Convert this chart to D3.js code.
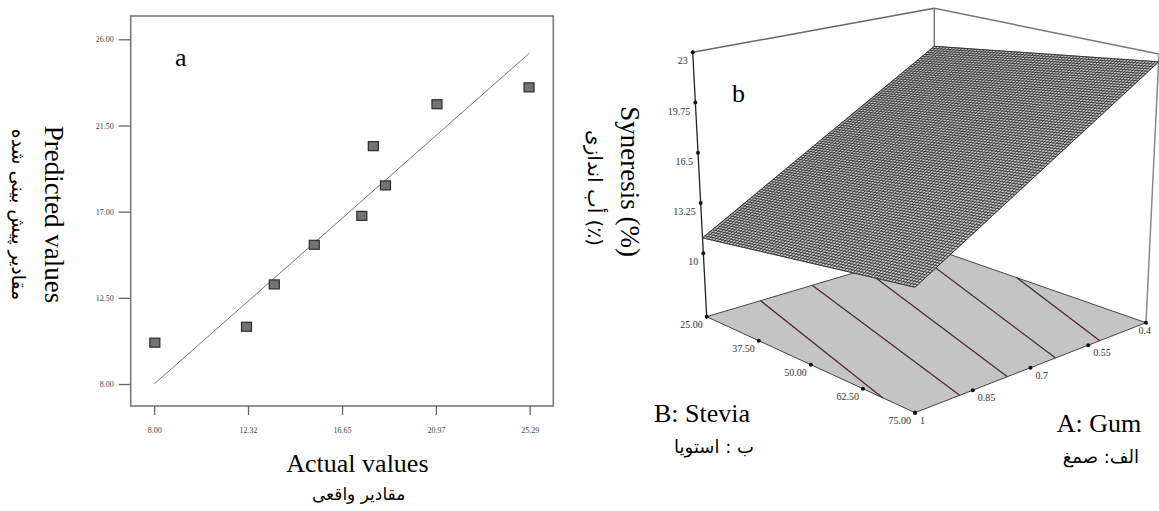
<!DOCTYPE html>
<html>
<head>
<meta charset="utf-8">
<script src="https://cdn.jsdelivr.net/npm/d3@7"></script>
<style>
  body { margin: 0; background: #fff; }
  text { font-family: "Liberation Serif", "DejaVu Serif", serif; }
  .fa { font-family: "DejaVu Sans", sans-serif; }
</style>
</head>
<body>
<div id="chart"></div>
<script>
// ---- panel a: predicted vs actual ----
const xTicks = [8.00, 12.32, 16.65, 20.97, 25.29];
const yTicks = [8.00, 12.50, 17.00, 21.50, 26.00];
const actual = [8.03, 12.25, 13.53, 15.37, 17.56, 18.09, 18.65, 21.02, 25.26];
const predicted = [10.16, 10.99, 13.20, 15.27, 16.78, 20.42, 18.37, 22.61, 23.49];
const fitLine = [8.00, 25.29]; // y = x reference line

// ---- panel b: response surface ----
const gumTicks = [1, 0.85, 0.7, 0.55, 0.4];
const gumLabels = ["1", "0.85", "0.7", "0.55", "0.4"];
const steviaTicks = [25, 37.5, 50, 62.5, 75];
const steviaLabels = ["25.00", "37.50", "50.00", "62.50", "75.00"];
const synTicks = [10, 13.25, 16.5, 19.75, 23];
const synLabels = ["10", "13.25", "16.5", "19.75", "23"];
// surface corners: gum, stevia, syneresis
const cornerGum = [1, 1, 0.4, 0.4];
const cornerStevia = [25, 75, 75, 25];
const cornerSyn = [11.0, 13.2, 22.5, 20.3];
// contour lines on the floor, [gum, stevia] end points
const contourFrom = [[0.858, 25], [0.722, 25], [0.583, 25], [0.445, 25], [0.4, 44.5]];
const contourTo = [[1, 67.3], [0.884, 75], [0.76, 75], [0.635, 75], [0.52, 75]];

const W = 1159, H = 511;
const svg = d3.select("#chart").append("svg")
  .attr("width", W).attr("height", H)
  .style("display", "block");

// ================= panel a =================
const frame = { left: 130.7, right: 553.3, top: 16, bottom: 406 };
const x = d3.scaleLinear().domain([8, 25.29]).range([154.2, 529.7]);
const y = d3.scaleLinear().domain([8, 26]).range([384, 39.3]);

const a = svg.append("g");

a.append("rect")
  .attr("x", frame.left).attr("y", frame.top)
  .attr("width", frame.right - frame.left)
  .attr("height", frame.bottom - frame.top)
  .attr("fill", "none").attr("stroke", "#7a7a7a").attr("stroke-width", 1.6);

const yAxis = a.append("g")
  .attr("transform", `translate(${frame.left},0)`)
  .call(d3.axisLeft(y).tickValues(yTicks).tickFormat(d3.format(".2f"))
    .tickSize(12).tickPadding(5));
yAxis.select(".domain").remove();
yAxis.selectAll("line").attr("stroke", "#666").attr("stroke-width", 1.3);
yAxis.selectAll("text").attr("font-size", 8).attr("fill", "#444")
  .style("font-family", "Liberation Serif");

const xAxis = a.append("g")
  .attr("transform", `translate(0,${frame.bottom})`)
  .call(d3.axisBottom(x).tickValues(xTicks).tickFormat(d3.format(".2f"))
    .tickSize(9).tickPadding(12));
xAxis.select(".domain").remove();
xAxis.selectAll("line").attr("stroke", "#666").attr("stroke-width", 1.3);
xAxis.selectAll("text").attr("font-size", 8).attr("fill", "#444")
  .style("font-family", "Liberation Serif");

a.append("line")
  .attr("x1", x(fitLine[0])).attr("y1", y(fitLine[0]))
  .attr("x2", x(fitLine[1])).attr("y2", y(fitLine[1]))
  .attr("stroke", "#777").attr("stroke-width", 1);

const sq = 10;
a.selectAll("rect.pt")
  .data(actual.map((d, i) => [d, predicted[i]]))
  .enter().append("rect")
  .attr("class", "pt")
  .attr("x", d => x(d[0]) - sq / 2)
  .attr("y", d => y(d[1]) - sq / 2 + 0.5)
  .attr("width", sq).attr("height", sq - 1)
  .attr("fill", "#737373").attr("stroke", "#2b2b2b").attr("stroke-width", 1.2);

a.append("text").attr("x", 175).attr("y", 66)
  .attr("font-size", 26).text("a");

a.append("text")
  .attr("transform", "translate(45,214.5) rotate(90)")
  .attr("text-anchor", "middle").attr("font-size", 27)
  .text("Predicted values");
a.append("text").attr("class", "fa")
  .attr("transform", "translate(12,214.5) rotate(90)")
  .attr("text-anchor", "middle").attr("font-size", 19)
  .text("مقادیر پیش بینی شده");

a.append("text").attr("x", 357.4).attr("y", 472)
  .attr("text-anchor", "middle").attr("font-size", 26)
  .text("Actual values");
a.append("text").attr("class", "fa")
  .attr("x", 358.6).attr("y", 500)
  .attr("text-anchor", "middle").attr("font-size", 17)
  .text("مقادیر واقعی");

// ================= panel b =================
// screen corners of the 3D box (L: gum 1/stevia 25, F: 1/75, R: 0.4/75, K: 0.4/25)
const box = {
  floor: { L: [706.7, 316.7], F: [915, 412.7], R: [1146, 322.7], K: [934.3, 249] },
  top: { L: [692.7, 52.3], F: [915, 118.7], R: [1159, 54], K: [934.3, 8.3] }
};
const u = d3.scaleLinear().domain([1, 0.4]).range([0, 1]);
const v = d3.scaleLinear().domain([25, 75]).range([0, 1]);
const w = d3.scaleLinear().domain([5.9, 23]).range([0, 1]);

function quad(q, s, t) {
  const k = ["L", "F", "R", "K"];
  const c = [(1 - s) * (1 - t), (1 - s) * t, s * t, s * (1 - t)];
  return [0, 1].map(j => d3.sum(k, (n, i) => c[i] * q[n][j]));
}
function project(gum, stevia, syn) {
  const s = u(gum), t = v(stevia), h = syn == null ? 0 : w(syn);
  const f = quad(box.floor, s, t), tp = quad(box.top, s, t);
  return [f[0] + (tp[0] - f[0]) * h, f[1] + (tp[1] - f[1]) * h];
}
const line = d3.line();
const b = svg.append("g");

// floor
b.append("path")
  .attr("d", line([project(1, 25), project(1, 75), project(0.4, 75), project(0.4, 25)]) + "Z")
  .attr("fill", "#c4c4c4").attr("stroke", "#444").attr("stroke-width", 1);

b.selectAll("path.contour")
  .data(contourFrom.map((d, i) => [d, contourTo[i]]))
  .enter().append("path")
  .attr("class", "contour")
  .attr("d", d => line(d.map(p => project(p[0], p[1]))))
  .attr("stroke", "#4d2a2e").attr("stroke-width", 1.3).attr("fill", "none");

// box edges behind the surface
const edge = (p, q, col, sw) => b.append("path").attr("d", line([p, q]))
  .attr("stroke", col).attr("stroke-width", sw).attr("fill", "none");
edge(project(0.4, 25, 5.9), project(0.4, 25, 23), "#777", 1.5);
edge(project(1, 25, 23), project(0.4, 25, 23), "#666", 1.5);
edge(project(0.4, 25, 23), project(0.4, 75, 23), "#777", 1.5);
edge(project(0.4, 75, 5.9), project(0.4, 75, 23), "#888", 1.5);
edge(project(1, 25, 5.9), project(1, 25, 23), "#222", 1.3);

// surface mesh
const sc = cornerGum.map((g, i) => project(g, cornerStevia[i], cornerSyn[i]));
b.append("path")
  .attr("d", line(sc) + "Z")
  .attr("fill", "#c8c8c8").attr("stroke", "#555").attr("stroke-width", 0.8);
const mesh = [];
const nA = 95, nB = 72;
for (let i = 0; i <= nA; i++) {
  const t = i / nA;
  mesh.push([d3.interpolate(sc[0], sc[3])(t), d3.interpolate(sc[1], sc[2])(t)]);
}
for (let j = 0; j <= nB; j++) {
  const t = j / nB;
  mesh.push([d3.interpolate(sc[0], sc[1])(t), d3.interpolate(sc[3], sc[2])(t)]);
}
b.append("path")
  .attr("d", mesh.map(m => line(m)).join(""))
  .attr("stroke", "#2a2a2a").attr("stroke-width", 0.8).attr("fill", "none");

// syneresis axis
synTicks.forEach((s, i) => {
  const p = project(1, 25, s);
  b.append("circle").attr("cx", p[0]).attr("cy", p[1]).attr("r", 2).attr("fill", "#111");
  b.append("text").attr("x", p[0] - 5).attr("y", p[1] + 12)
    .attr("text-anchor", "end").attr("font-size", 10).attr("fill", "#333")
    .text(synLabels[i]);
});
// stevia axis
steviaTicks.forEach((s, i) => {
  const p = project(1, s);
  b.append("circle").attr("cx", p[0]).attr("cy", p[1]).attr("r", 2).attr("fill", "#111");
  b.append("text").attr("x", p[0] - 4).attr("y", p[1] + 11)
    .attr("text-anchor", "end").attr("font-size", 10).attr("fill", "#333")
    .text(steviaLabels[i]);
});
// gum axis
gumTicks.forEach((g, i) => {
  const p = project(g, 75);
  b.append("circle").attr("cx", p[0]).attr("cy", p[1]).attr("r", 2).attr("fill", "#111");
  b.append("text").attr("x", Math.min(p[0] + 5, W - 1)).attr("y", p[1] + 11)
    .attr("text-anchor", p[0] + 18 > W ? "end" : "start")
    .attr("font-size", 10).attr("fill", "#333")
    .text(gumLabels[i]);
});

b.append("text").attr("x", 732).attr("y", 101.5)
  .attr("font-size", 26).text("b");

b.append("text")
  .attr("transform", "translate(621,181.7) rotate(90)")
  .attr("text-anchor", "middle").attr("font-size", 27)
  .text("Syneresis (%)");
b.append("text").attr("class", "fa")
  .attr("transform", "translate(588,188) rotate(90)")
  .attr("text-anchor", "middle").attr("font-size", 20)
  .text("أب اندازی (٪)");

b.append("text").attr("x", 654).attr("y", 421.7)
  .attr("font-size", 26).text("B: Stevia");
b.append("text").attr("class", "fa")
  .attr("x", 714).attr("y", 453)
  .attr("text-anchor", "middle").attr("font-size", 18)
  .text("ب : استویا");

b.append("text").attr("x", 1056.7).attr("y", 431.7)
  .attr("font-size", 26).text("A: Gum");
b.append("text").attr("class", "fa")
  .attr("x", 1100.8).attr("y", 463.3)
  .attr("text-anchor", "middle").attr("font-size", 18)
  .text("الف: صمغ");
</script>
</body>
</html>
